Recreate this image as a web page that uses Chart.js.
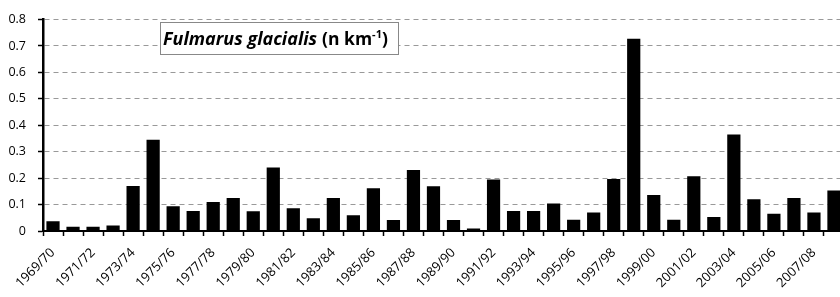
<!DOCTYPE html>
<html>
<head>
<meta charset="utf-8">
<script src="https://cdn.jsdelivr.net/npm/chart.js@4.4.1/dist/chart.umd.min.js"></script>
<style>
  body { margin: 0; background: #fff; overflow: hidden; }
</style>
</head>
<body>
<canvas id="chart" width="854" height="297"></canvas>
<script>
const seasons = [
    "1969/70", "1970/71", "1971/72", "1972/73", "1973/74", "1974/75", "1975/76", "1976/77",
    "1977/78", "1978/79", "1979/80", "1980/81", "1981/82", "1982/83", "1983/84", "1984/85",
    "1985/86", "1986/87", "1987/88", "1988/89", "1989/90", "1990/91", "1991/92", "1992/93",
    "1993/94", "1994/95", "1995/96", "1996/97", "1997/98", "1998/99", "1999/00", "2000/01",
    "2001/02", "2002/03", "2003/04", "2004/05", "2005/06", "2006/07", "2007/08", "2008/09"
]
const density = [
    0.037, 0.016, 0.016, 0.021, 0.170, 0.345, 0.094, 0.076,
    0.110, 0.125, 0.075, 0.240, 0.086, 0.048, 0.125, 0.060,
    0.162, 0.042, 0.231, 0.169, 0.042, 0.009, 0.195, 0.076,
    0.076, 0.104, 0.043, 0.070, 0.197, 0.727, 0.136, 0.043,
    0.207, 0.053, 0.365, 0.120, 0.065, 0.125, 0.070, 0.153
]
const yTicks = [0, 0.1, 0.2, 0.3, 0.4, 0.5, 0.6, 0.7, 0.8]

const FONT = "'Open Sans', 'Liberation Sans', sans-serif"
const TITLE_FONT = "'Open Sans', 'Liberation Sans', sans-serif"

// boxed species label in the top left of the plot
const titleBox = {
    id: "titleBox",
    afterDraw(chart) {
        const ctx = chart.ctx
        const x = 160, y = 22, w = 238, h = 32
        ctx.save()
        ctx.fillStyle = "#fff"
        ctx.fillRect(x, y, w, h)
        ctx.strokeStyle = "#888"
        ctx.lineWidth = 1
        ctx.strokeRect(x + 0.5, y + 0.5, w, h)

        ctx.fillStyle = "#000"
        ctx.textBaseline = "alphabetic"
        let tx = x + 3
        const ty = y + 23
        ctx.font = "italic 700 18px " + TITLE_FONT
        ctx.fillText("Fulmarus glacialis", tx, ty)
        tx += ctx.measureText("Fulmarus glacialis").width + 5
        ctx.font = "700 17.5px " + TITLE_FONT
        ctx.fillText("(n km", tx, ty)
        tx += ctx.measureText("(n km").width
        ctx.font = "700 11px " + TITLE_FONT
        ctx.fillText("-1", tx, ty - 7)
        tx += ctx.measureText("-1").width
        ctx.font = "700 17.5px " + TITLE_FONT
        ctx.fillText(")", tx, ty)
        ctx.restore()
    }
}

new Chart(document.getElementById("chart"), {
    type: "bar",
    data: {
        labels: seasons,
        datasets: [{
            data: density,
            backgroundColor: "#000",
            borderWidth: 0,
            barPercentage: 0.66,
            categoryPercentage: 1.0
        }]
    },
    options: {
        responsive: false,
        animation: false,
        layout: { padding: { top: 6, right: 0, left: 0, bottom: 0 } },
        plugins: {
            legend: { display: false },
            tooltip: { enabled: false }
        },
        scales: {
            x: {
                offset: true,
                grid: {
                    offset: true,
                    drawOnChartArea: false,
                    drawTicks: true,
                    tickLength: 5,
                    tickColor: "#000",
                    tickWidth: 1.5
                },
                border: { color: "#000", width: 2 },
                ticks: {
                    autoSkip: false,
                    maxRotation: 45,
                    minRotation: 45,
                    padding: 9,
                    color: "#000",
                    font: { family: FONT, size: 13 },
                    callback: (val, i) => i % 2 === 0 ? seasons[i] : ""
                },
                afterFit: scale => { scale.height = 66 }
            },
            y: {
                min: 0,
                max: 0.8,
                afterBuildTicks: scale => { scale.ticks = yTicks.map(v => ({ value: v })) },
                grid: {
                    color: ctx => ctx.tick && ctx.tick.value === 0 ? "rgba(0,0,0,0)" : "#999",
                    lineWidth: 1,
                    drawTicks: true,
                    tickLength: 5,
                    tickColor: "#000",
                    tickWidth: 1.5
                },
                border: { color: "#000", width: 2.5, dash: [5, 4] },
                ticks: {
                    padding: 12,
                    color: "#000",
                    font: { family: FONT, size: 12.5 },
                    callback: v => v === 0 ? "0" : v.toFixed(1)
                },
                afterFit: scale => { scale.width = 43 }
            }
        }
    },
    plugins: [titleBox]
})
</script>
</body>
</html>
